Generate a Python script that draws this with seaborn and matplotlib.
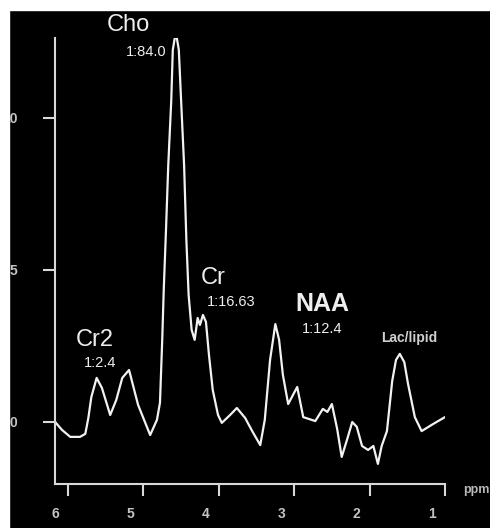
import matplotlib
matplotlib.use("Agg")
import matplotlib.pyplot as plt
import matplotlib.transforms as mtransforms
from matplotlib.patches import Rectangle
import seaborn as sns
import pandas as pd

# spectrum (ppm, signal)
ppm = [6.17, 6.08, 5.97, 5.84, 5.77, 5.73, 5.69, 5.62, 5.55, 5.44,
       5.36, 5.28, 5.19, 5.07, 4.91, 4.82, 4.78, 4.75, 4.73, 4.70,
       4.67, 4.63, 4.61, 4.57, 4.53, 4.50, 4.46, 4.43, 4.40, 4.36,
       4.32, 4.28, 4.25, 4.21, 4.17, 4.13, 4.08, 4.01, 3.96, 3.85,
       3.76, 3.65, 3.55, 3.45, 3.39, 3.32, 3.25, 3.20, 3.15, 3.08,
       2.96, 2.88, 2.72, 2.62, 2.56, 2.50, 2.43, 2.37, 2.30, 2.23,
       2.17, 2.10, 2.02, 1.95, 1.89, 1.84, 1.77, 1.70, 1.65, 1.60,
       1.54, 1.49, 1.40, 1.31, 1.16, 1.00]
signal = [0.00, -0.26, -0.49, -0.49, -0.39, 0.13, 0.82, 1.45, 1.12, 0.23,
          0.72, 1.45, 1.71, 0.56, -0.43, 0.07, 0.63, 2.70, 4.34, 6.32,
          8.45, 10.59, 12.24, 12.83, 12.24, 10.59, 8.45, 5.99, 4.18, 3.03,
          2.70, 3.42, 3.19, 3.52, 3.29, 2.20, 1.05, 0.23, -0.03, 0.23,
          0.46, 0.13, -0.33, -0.76, 0.07, 2.04, 3.22, 2.70, 1.55, 0.59,
          1.15, 0.16, 0.03, 0.43, 0.33, 0.59, -0.23, -1.15, -0.59, 0.00,
          -0.16, -0.79, -0.92, -0.79, -1.38, -0.79, -0.30, 1.35, 2.04, 2.24,
          1.97, 1.25, 0.16, -0.30, -0.07, 0.16]

peak_names = ["Cho", "Cr", "Cr2", "NAA"]
peak_ratios = ["1:84.0", "1:16.63", "1:2.4", "1:12.4"]
x_ticks = [6, 5, 4, 3, 2, 1]
y_ticks = [0, 5, 10]

df = pd.DataFrame({"ppm": ppm, "signal": signal})

sns.set_theme(style="ticks", rc={
    "figure.facecolor": "black",
    "axes.facecolor": "black",
    "axes.edgecolor": "#d8d8d8",
    "xtick.color": "#d8d8d8",
    "ytick.color": "#d8d8d8",
})
plt.rcParams["font.family"] = ["Liberation Sans", "DejaVu Sans"]

fig = plt.figure(figsize=(4.9, 5.28), dpi=100)
ax = fig.add_axes([55 / 490, 44 / 528, 390 / 490, 446 / 528])

sns.lineplot(data=df, x="ppm", y="signal", sort=False, estimator=None,
             color="#f2f2f2", linewidth=1.6, ax=ax)

ax.set_xlim(6.172, 1.0)
ax.set_ylim(-2.04, 12.63)
sns.despine(ax=ax)
for s in ["left", "bottom"]:
    ax.spines[s].set_linewidth(1.5)

ax.set_xticks(x_ticks)
ax.set_yticks(y_ticks)
ax.set_xticklabels([str(t) for t in x_ticks])
ax.set_yticklabels([str(t) for t in y_ticks])
ax.tick_params(axis="x", direction="out", length=8.5, width=1.5, pad=8,
               labelsize=10, labelcolor="#c4c4c4")
ax.tick_params(axis="y", direction="out", length=9, width=1.5, pad=18,
               labelsize=10, labelcolor="#c4c4c4")
for lab in ax.get_xticklabels() + ax.get_yticklabels():
    lab.set_fontweight("bold")
shift = mtransforms.ScaledTranslation(-0.13, 0, fig.dpi_scale_trans)
for lab in ax.get_xticklabels():
    lab.set_transform(lab.get_transform() + shift)
ax.set_xlabel("")
ax.set_ylabel("")

# peak labels
txt = "#eeeeee"
ax.text(5.20, 13.05, peak_names[0], color=txt, fontsize=17, ha="center", va="center")
ax.text(4.96, 12.16, peak_ratios[0], color=txt, fontsize=10.5, ha="center", va="center")
ax.text(4.07, 4.74, peak_names[1], color=txt, fontsize=17, ha="center", va="center")
ax.text(3.84, 3.93, peak_ratios[1], color=txt, fontsize=10.5, ha="center", va="center")
ax.text(5.65, 2.70, peak_names[2], color=txt, fontsize=17, ha="center", va="center")
ax.text(5.57, 1.94, peak_ratios[2], color=txt, fontsize=10.5, ha="center", va="center")
ax.text(2.63, 3.88, peak_names[3], color=txt, fontsize=18, fontweight="bold",
        ha="center", va="center")
ax.text(2.63, 3.06, peak_ratios[3], color=txt, fontsize=10.5, ha="center", va="center")
ax.text(1.48, 2.76, "Lac/lipid", color="#cfcfcf", fontsize=10, fontweight="bold",
        ha="center", va="center")
fig.text(463 / 490, 1 - 490 / 528, "ppm", color="#b8b8b8", fontsize=9,
         fontweight="bold", ha="left", va="center")

# white border of the scanned picture
fig.add_artist(Rectangle((0, 0), 9 / 490, 1, transform=fig.transFigure,
                         color="white", zorder=10))
fig.add_artist(Rectangle((0, 1 - 10 / 528), 1, 10 / 528, transform=fig.transFigure,
                         color="white", zorder=10))

fig.savefig("out.png", dpi=100, facecolor="black")
